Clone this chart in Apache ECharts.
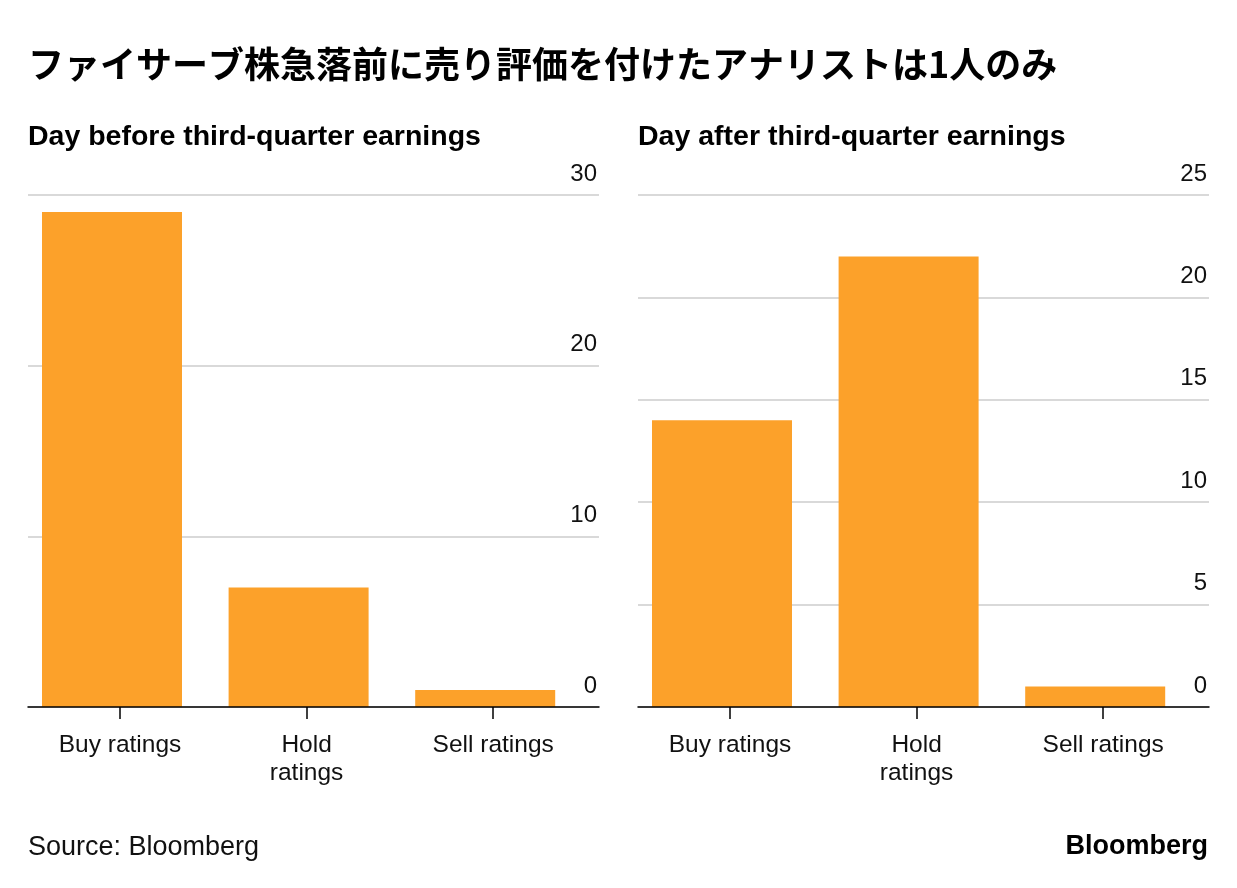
<!DOCTYPE html>
<html>
<head>
<meta charset="utf-8">
<script src="https://cdn.jsdelivr.net/npm/echarts@6/dist/echarts.min.js"></script>
<style>
html,body{margin:0;padding:0;background:#fff;}
#chart{width:1237px;height:888px;}
</style>
</head>
<body>
<div id="chart"></div>
<script>
const categories = ['Buy ratings', 'Hold\nratings', 'Sell ratings'];
const beforeValues = [29, 7, 1];
const afterValues = [14, 22, 1];
const beforeTicks = [0, 10, 20, 30];
const afterTicks = [0, 5, 10, 15, 20, 25];

const titleText = 'ファイサーブ株急落前に売り評価を付けたアナリストは1人のみ';
const leftSubtitle = 'Day before third-quarter earnings';
const rightSubtitle = 'Day after third-quarter earnings';
const sourceText = 'Source: Bloomberg';
const brandText = 'Bloomberg';

const LATIN = '"Liberation Sans", Arial, sans-serif';
const BAR = '#fca12a';
const TOP = 195, HEIGHT = 512;

const chart = echarts.init(document.getElementById('chart'), null, {renderer: 'canvas'});

const grids = [], xAxes = [], yAxes = [], series = [];

function panel(offset, values, ticks) {
  const gA = grids.length;
  grids.push({left: 28 + offset, width: 571, top: TOP, height: HEIGHT});
  grids.push({left: 26.7 + offset, width: 559.8, top: TOP, height: HEIGHT});
  grids.push({left: 18.7 + offset, width: 559.8, top: TOP, height: HEIGHT});
  const min = ticks[0], max = ticks[ticks.length - 1], interval = ticks[1] - ticks[0];
  // grid A: gridlines, y labels, axis line
  xAxes.push({gridIndex: gA, type: 'category', data: categories, z: 10,
    axisLine: {show: true, lineStyle: {color: '#000', width: 1.5}},
    axisTick: {show: false}, axisLabel: {show: false}, splitLine: {show: false}});
  yAxes.push({gridIndex: gA, type: 'value', position: 'right', min, max, interval,
    axisLine: {show: false}, axisTick: {show: false},
    splitLine: {show: true, lineStyle: {color: '#cccccc', width: 1.5}},
    axisLabel: {inside: true, margin: 2, align: 'right', verticalAlign: 'bottom',
      padding: [0, 0, 9, 0], fontSize: 24, color: '#111', fontFamily: LATIN}});
  // grid B: ticks and category labels
  xAxes.push({gridIndex: gA + 1, type: 'category', data: categories,
    axisLine: {show: false},
    axisTick: {show: true, alignWithLabel: true, length: 12, lineStyle: {color: '#000', width: 1.5}},
    axisLabel: {show: true, margin: 24, fontSize: 24.5, lineHeight: 28, color: '#111', fontFamily: LATIN, interval: 0}});
  yAxes.push({gridIndex: gA + 1, type: 'value', min, max, show: false});
  // grid C: bars
  xAxes.push({gridIndex: gA + 2, type: 'category', data: categories, show: false});
  yAxes.push({gridIndex: gA + 2, type: 'value', min, max, show: false});
  series.push({type: 'bar', xAxisIndex: gA + 2, yAxisIndex: gA + 2, data: values,
    barWidth: 140, itemStyle: {color: BAR}, silent: true, animation: false});
}

panel(0, beforeValues, beforeTicks);
panel(610, afterValues, afterTicks);

chart.setOption({
  animation: false,
  backgroundColor: '#fff',
  title: [
    {text: titleText, left: 28, top: 46, padding: 0, textStyle: {fontFamily: '"Noto Sans CJK JP", sans-serif', fontSize: 36, fontWeight: 'bold', color: '#000'}},
    {text: leftSubtitle, left: 28, top: 123, padding: 0, textStyle: {fontFamily: LATIN, fontSize: 28.5, fontWeight: 'bold', color: '#000'}},
    {text: rightSubtitle, left: 638, top: 123, padding: 0, textStyle: {fontFamily: LATIN, fontSize: 28.5, fontWeight: 'bold', color: '#000'}},
    {text: sourceText, left: 28, top: 834, padding: 0, textStyle: {fontFamily: LATIN, fontSize: 27, fontWeight: 'normal', color: '#111'}},
    {text: brandText, right: 29, top: 833, padding: 0, textStyle: {fontFamily: LATIN, fontSize: 27, fontWeight: 'bold', color: '#000'}}
  ],
  grid: grids,
  xAxis: xAxes,
  yAxis: yAxes,
  series: series
});
</script>
</body>
</html>
